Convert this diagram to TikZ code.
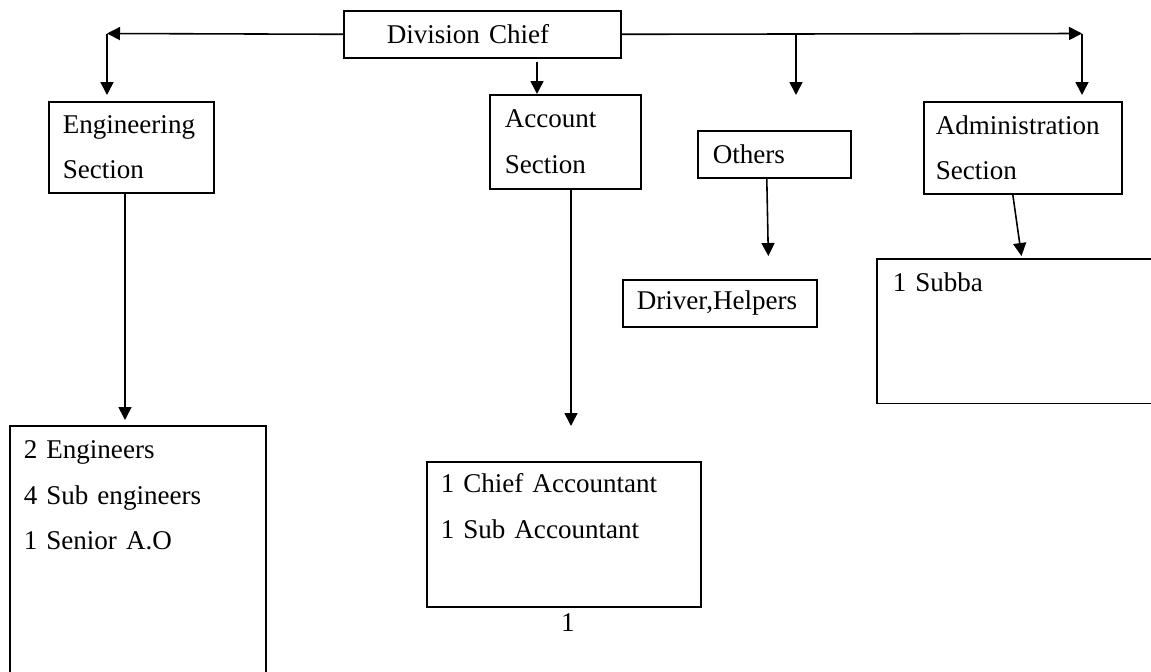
\documentclass[tikz,border=0pt]{standalone}
\usepackage{fontspec}
\setmainfont{Liberation Serif}
\usetikzlibrary{arrows.meta}

\newlength{\pxu}
\setlength{\pxu}{0.2mm}

\begin{document}
\begin{tikzpicture}[x=0.2mm, y=-0.2mm,
    unit/.style={draw, line width=0.9pt, anchor=north west, align=left,
      inner ysep=0pt, font=\fontsize{15.4}{25.9}\selectfont},
    arr/.style={line width=0.9pt, -{Triangle[length=2.6mm, width=2.6mm]}}]
  \useasboundingbox (0,0) rectangle (1151,672);
  \clip (0,0) rectangle (1151,672);

  % top row
  \node[unit, minimum width=277\pxu, minimum height=47\pxu, text width=191\pxu, inner xsep=43\pxu] (chief) at (343,10) {Division Chief};
  \node[unit, minimum width=165\pxu, minimum height=91\pxu, text width=137\pxu, inner xsep=14\pxu] (eng) at (48,101) {Engineering\\Section};
  \node[unit, minimum width=151\pxu, minimum height=94\pxu, text width=121\pxu, inner xsep=15\pxu] (acc) at (489,94) {Account\\Section};
  \node[unit, minimum width=153\pxu, minimum height=47\pxu, text width=123\pxu, inner xsep=15\pxu] (oth) at (697,130) {Others};
  \node[unit, minimum width=198\pxu, minimum height=92\pxu, text width=174\pxu, inner xsep=12\pxu] (adm) at (923,101) {Administration\\Section};

  % staff boxes
  \node[unit, minimum width=256\pxu, text width=228\pxu, inner xsep=14\pxu, inner ysep=15\pxu, text depth=247\pxu] (engstaff) at (9,425) {2 Engineers\\4 Sub engineers\\1 Senior A.O};
  \node[unit, minimum width=274\pxu, text width=246\pxu, inner xsep=14\pxu, inner ysep=12\pxu, text depth=102\pxu] (accstaff) at (426,461) {1 Chief Accountant\\1 Sub Accountant};
  \node[unit, minimum width=194\pxu, minimum height=47\pxu, text width=166\pxu, inner xsep=14\pxu] (drv) at (622,279) {Driver,Helpers};
  \node[unit, minimum width=314\pxu, text width=282\pxu, inner xsep=16\pxu, inner ysep=14\pxu, text depth=98\pxu] (subba) at (876,258) {1 Subba};

  \node[font=\fontsize{15.4}{25.9}\selectfont] (pgno) at (568,623) {1};

  % connectors
  \coordinate (lt) at (107,33.5);
  \coordinate (rt) at (1082,33.5);
  \coordinate (ob) at (796,33.5);
  \coordinate (oe) at (796,95);
  \coordinate (ac) at (537,0);
  \coordinate (ec) at (125,0);
  \coordinate (sc) at (571,0);

  \draw[arr] (chief.west) -- (lt);
  \draw[arr] (chief.east) -- (rt);
  \draw[arr, shorten >=6\pxu] (lt) -- (lt |- eng.north);
  \draw[arr, shorten >=6\pxu] (rt) -- (rt |- adm.north);
  \draw[arr] (ob) -- (oe);
  \draw[arr, shorten <=3\pxu] (ac |- chief.south) -- (ac |- acc.north);
  \draw[arr, shorten >=5\pxu] (ec |- eng.south) -- (ec |- engstaff.north);
  \draw[arr, shorten >=35\pxu] (sc |- acc.south) -- (sc |- accstaff.north);
  \draw[arr, shorten >=23\pxu] ([xshift=-7.5\pxu]oth.south) -- ([xshift=49\pxu]drv.north);
  \draw[arr, shorten >=2\pxu] ([xshift=-10\pxu]adm.south) -- ([xshift=-12\pxu]subba.north);
\end{tikzpicture}
\end{document}
